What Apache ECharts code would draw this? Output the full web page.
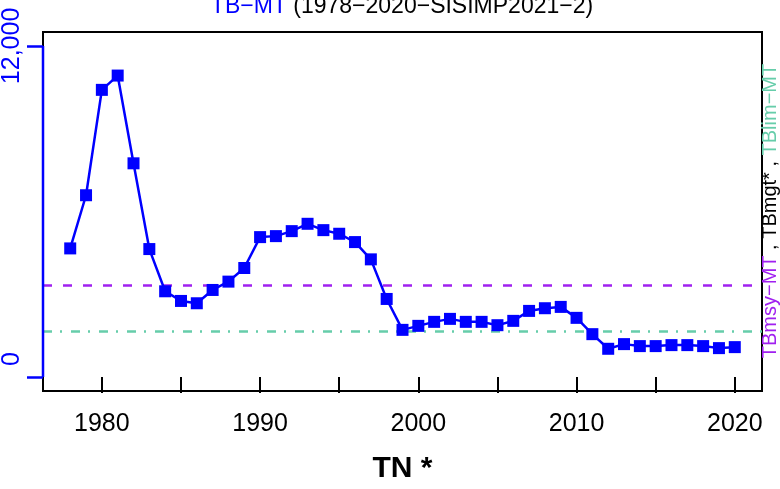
<!DOCTYPE html>
<html>
<head>
<meta charset="utf-8">
<script src="https://cdn.jsdelivr.net/npm/echarts@6/dist/echarts.min.js"></script>
<style>
html,body{margin:0;padding:0;background:#fff;}
#chart{width:780px;height:489px;}
</style>
</head>
<body>
<div id="chart"></div>
<script>
const years = [1978,1979,1980,1981,1982,1983,1984,1985,1986,1987,1988,1989,1990,1991,1992,1993,1994,1995,1996,1997,1998,1999,2000,2001,2002,2003,2004,2005,2006,2007,2008,2009,2010,2011,2012,2013,2014,2015,2016,2017,2018,2019,2020];
const tbValues = [4662,6589,10408,10926,7746,4638,3108,2758,2674,3156,3458,3951,5071,5107,5288,5554,5324,5193,4891,4265,2830,1710,1855,2000,2108,2000,2000,1879,2036,2397,2494,2542,2145,1554,1024,1193,1121,1121,1157,1157,1121,1048,1084];
const tbMsy = 3335;
const tbLim = 1660;
const xTicks = [1980,1985,1990,1995,2000,2005,2010,2015,2020];
const xLabels = [1980,1990,2000,2010,2020];
const yTicks = [0,12000];

const FONT = 'Liberation Sans, Arial, sans-serif';
const xMin = 1976.28, xMax = 2021.72;
const yMin = -506, yMax = 12505;

const chart = echarts.init(document.getElementById('chart'));
chart.setOption({
  animation: false,
  backgroundColor: '#ffffff',
  title: {
    text: '{a|TB\u2212MT}{b| (1978\u22122020\u2212SISIMP2021\u22122)}',
    left: 402, top: -5, textAlign: 'center', padding: 0,
    textStyle: {
      fontSize: 23, fontWeight: 'normal', fontFamily: FONT,
      rich: {
        a: {color: '#0000FF', fontSize: 23, fontWeight: 'normal', fontFamily: FONT},
        b: {color: '#000000', fontSize: 23, fontWeight: 'normal', fontFamily: FONT}
      }
    }
  },
  grid: {
    left: 43, right: 18, top: 32, bottom: 97,
    show: true, borderColor: '#000', borderWidth: 2, backgroundColor: 'transparent'
  },
  xAxis: {
    type: 'value', min: xMin, max: xMax,
    name: 'TN *', nameLocation: 'middle', nameGap: 63,
    nameTextStyle: {fontSize: 30, fontWeight: 'bold', color: '#000', fontFamily: FONT},
    axisLine: {show: false},
    splitLine: {show: false},
    axisTick: {show: true, customValues: xTicks, length: 16, lineStyle: {color: '#000', width: 2}},
    axisLabel: {show: true, customValues: xLabels, margin: 21, fontSize: 25, color: '#000', fontFamily: FONT,
      formatter: v => String(v)}
  },
  yAxis: {
    type: 'value', min: yMin, max: yMax,
    axisLine: {show: false},
    splitLine: {show: false},
    axisTick: {show: true, customValues: yTicks, length: 16, lineStyle: {color: '#0000FF', width: 2.5}},
    axisLabel: {show: true, customValues: yTicks, rotate: 90, margin: 18, fontSize: 25, color: '#0000FF', fontFamily: FONT,
      formatter: v => v === 0 ? '{z|0}' : v.toLocaleString('en-US'),
      rich: {z: {fontSize: 25, color: '#0000FF', fontFamily: FONT, padding: [0, 0, 0, 36]}}
    }
  },
  graphic: [{
    type: 'text', x: 770, y: 211, rotation: Math.PI / 2,
    style: {
      text: '{p|TBmsy\u2212MT}{k| , TBmgt* , }{g|TBlim\u2212MT}',
      align: 'center', verticalAlign: 'middle',
      rich: {
        p: {fill: '#A020F0', fontSize: 20, fontFamily: FONT},
        k: {fill: '#000000', fontSize: 20, fontFamily: FONT},
        g: {fill: '#66CDAA', fontSize: 20, fontFamily: FONT}
      }
    }
  }],
  series: [
    {
      type: 'line',
      data: years.map((y, i) => [y, tbValues[i]]),
      symbol: 'rect', symbolSize: 12,
      itemStyle: {color: '#0000FF'},
      lineStyle: {color: '#0000FF', width: 2.5},
      z: 5,
      markLine: {
        silent: true, symbol: ['none', 'none'], label: {show: false},
        data: [
          {yAxis: tbMsy, lineStyle: {color: '#A020F0', width: 2.5, type: [9, 11]}},
          {yAxis: tbLim, lineStyle: {color: '#66CDAA', width: 2.5, type: [9, 8, 2, 9]}}
        ]
      }
    },
    {
      type: 'line',
      data: [[xMin, yTicks[0]], [xMin, yTicks[1]]],
      symbol: 'none', clip: false, silent: true,
      lineStyle: {color: '#0000FF', width: 2.5},
      z: 6
    }
  ]
});
</script>
</body>
</html>
